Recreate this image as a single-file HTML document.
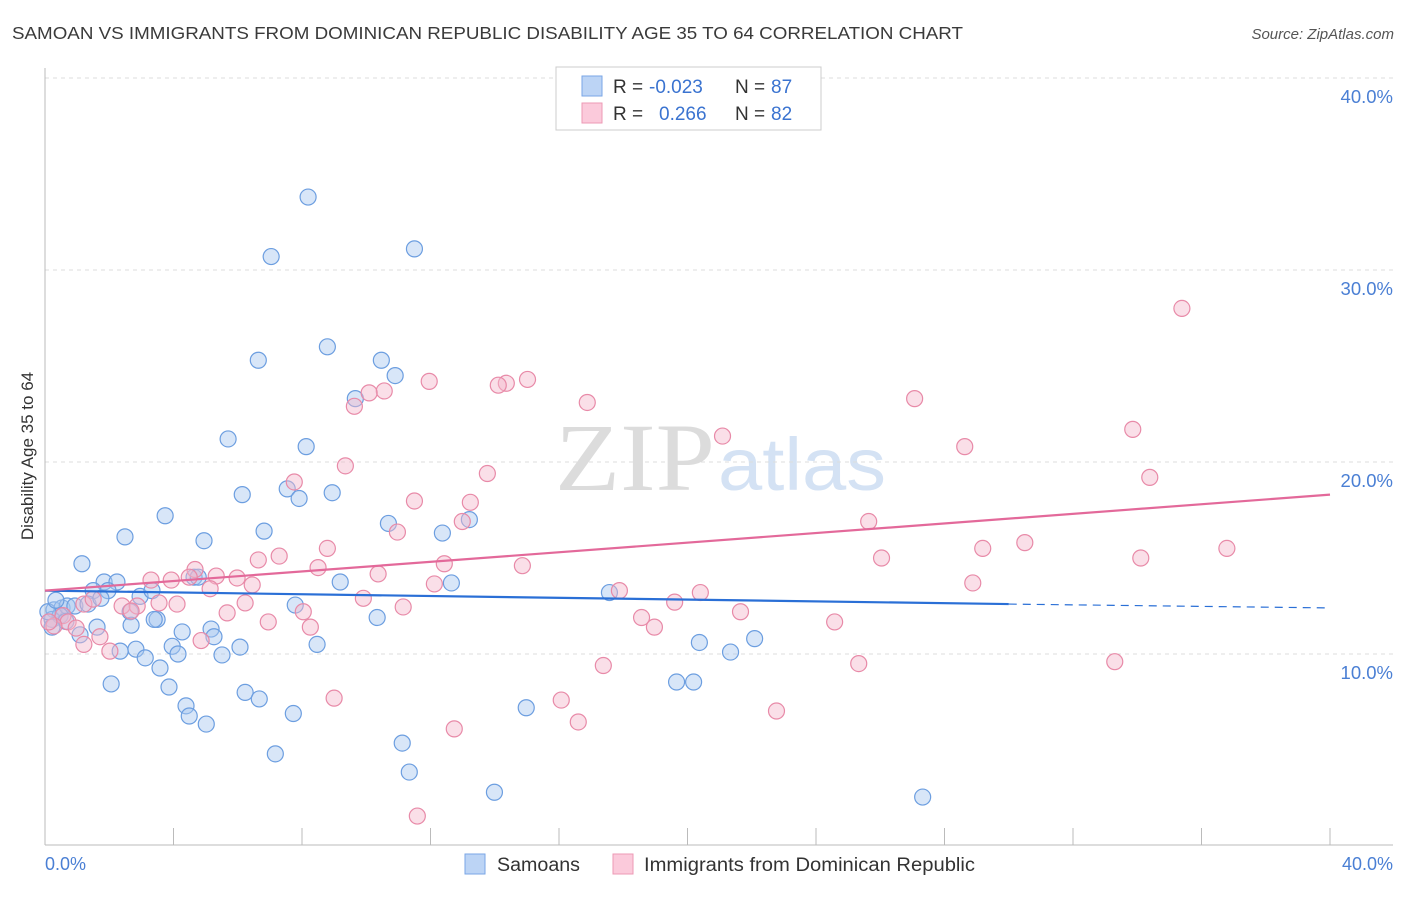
<!DOCTYPE html>
<html><head><meta charset="utf-8"><style>
body{margin:0;background:#fff;font-family:"Liberation Sans",sans-serif}
</style></head><body>
<svg id="chart" width="1406" height="892" xmlns="http://www.w3.org/2000/svg" style="font-family:'Liberation Sans',sans-serif">
<text x="12" y="39" font-size="17.5" fill="#3a3a3a" textLength="951" lengthAdjust="spacingAndGlyphs">SAMOAN VS IMMIGRANTS FROM DOMINICAN REPUBLIC DISABILITY AGE 35 TO 64 CORRELATION CHART</text>
<text x="1394" y="39" font-size="15" fill="#555" font-style="italic" text-anchor="end">Source: ZipAtlas.com</text>
<text x="555" y="490" font-size="96" fill="#dcdcdc" font-family="Liberation Serif" textLength="160" lengthAdjust="spacingAndGlyphs">ZIP</text>
<text x="718" y="490" font-size="74" fill="#d4e2f4" textLength="168" lengthAdjust="spacingAndGlyphs">atlas</text>
<g id="grid"></g>
<g id="axes"></g>
<g id="marks"></g>
<text transform="translate(33,456) rotate(-90)" font-size="17" fill="#333" text-anchor="middle">Disability Age 35 to 64</text>
<text x="45" y="870" font-size="18" fill="#4a7fd4">0.0%</text>
<text x="1393" y="870" font-size="18" fill="#4a7fd4" text-anchor="end">40.0%</text>
<g>
<rect x="556" y="67" width="265" height="63" fill="#fff" stroke="#ccc"/>
<rect x="582" y="76" width="20" height="20" fill="#bcd4f5" stroke="#7aa6e6"/>
<rect x="582" y="103" width="20" height="20" fill="#fbcadb" stroke="#ec9ab5"/>
<text x="613" y="93" font-size="19" fill="#333">R =</text>
<text x="649" y="93" font-size="19" fill="#3a73d0">-0.023</text>
<text x="735" y="93" font-size="19" fill="#333">N =</text>
<text x="771" y="93" font-size="19" fill="#3a73d0">87</text>
<text x="613" y="120" font-size="19" fill="#333">R =</text>
<text x="659" y="120" font-size="19" fill="#3a73d0">0.266</text>
<text x="735" y="120" font-size="19" fill="#333">N =</text>
<text x="771" y="120" font-size="19" fill="#3a73d0">82</text>
</g>
<g>
<rect x="465" y="854" width="20" height="20" fill="#bcd4f5" stroke="#7aa6e6"/>
<text x="497" y="871" font-size="19" fill="#333" textLength="83" lengthAdjust="spacingAndGlyphs">Samoans</text>
<rect x="613" y="854" width="20" height="20" fill="#fbcadb" stroke="#ec9ab5"/>
<text x="644" y="871" font-size="19" fill="#333" textLength="331" lengthAdjust="spacingAndGlyphs">Immigrants from Dominican Republic</text>
</g>
</svg>
<script>
const yTicks=[10,20,30,40];
const yTickLabels=["10.0%","20.0%","30.0%","40.0%"];
const blueX=[8.19,7.04,11.5,6.64,8.79,10.47,10.9,9.66,5.7,8.13,6.14,7.54,7.91,8.94,3.74,6.82,10.69,12.37,13.21,2.49,4.95,1.15,1.84,2.24,1.5,1.96,2.96,3.33,4.64,4.77,9.19,12.65,17.57,0.28,0.53,0.69,0.93,1.34,1.74,2.65,3.49,7.79,10.34,0.22,0.47,0.65,1.62,2.68,3.4,4.27,5.17,5.26,1.09,2.34,2.83,3.12,3.96,4.14,3.58,5.51,6.07,8.47,20.37,22.09,21.34,2.06,3.86,6.23,6.67,4.39,4.49,5.02,7.73,14.98,19.66,20.19,7.17,11.12,11.34,13.99,27.32,0.22,0.09,0.34];
const blueY=[33.8,30.7,31.1,25.3,26.0,25.3,24.5,23.3,21.2,20.8,18.3,18.6,18.1,18.4,17.2,16.4,16.8,16.3,17.0,16.1,15.9,14.7,13.75,13.75,13.3,13.3,13.0,13.3,14.0,14.0,13.75,13.7,13.2,12.3,12.4,12.5,12.5,12.6,12.9,12.2,11.8,12.55,11.9,11.8,12.0,11.7,11.4,11.5,11.8,11.15,11.3,10.9,11.0,10.15,10.25,9.8,10.4,10.0,9.27,9.95,10.36,10.5,10.6,10.8,10.1,8.44,8.28,8.0,7.66,7.3,6.77,6.35,6.9,7.2,8.54,8.54,4.8,5.36,3.85,2.8,2.55,11.4,12.2,12.8];
const pinkX=[35.39,11.96,10.56,10.09,9.63,14.36,14.11,15.02,16.88,27.07,21.09,28.63,33.86,9.35,7.76,34.39,13.77,11.5,13.24,12.99,10.97,25.64,30.5,29.19,8.79,7.29,6.64,26.04,34.11,36.79,12.43,8.5,14.86,4.67,3.3,3.93,4.49,5.33,5.98,6.45,10.37,12.12,5.14,28.88,9.91,17.88,20.4,4.11,6.23,2.4,2.87,3.55,1.21,1.5,2.68,8.04,11.15,19.6,18.57,18.97,21.65,24.58,6.95,5.67,8.26,0.56,0.72,0.97,0.28,0.12,1.71,1.21,2.02,4.86,17.38,25.33,33.3,16.07,9.0,16.6,22.77,12.74,11.59];
const pinkY=[28.0,24.2,23.7,23.6,22.9,24.1,24.0,24.3,23.1,23.3,21.35,20.8,21.7,19.8,18.96,19.2,19.4,17.97,17.9,16.9,16.35,16.9,15.8,15.5,15.5,15.1,14.9,15.0,15.0,15.5,14.7,14.5,14.6,14.4,13.85,13.85,14.0,14.06,13.96,13.6,14.17,13.65,13.4,13.7,12.9,13.3,13.2,12.6,12.66,12.5,12.5,12.66,12.6,12.86,12.24,12.2,12.45,12.7,11.9,11.4,12.2,11.67,11.67,12.14,11.4,12.0,11.67,11.35,11.46,11.67,10.9,10.5,10.15,10.7,9.4,9.5,9.6,7.6,7.7,6.46,7.03,6.1,1.56];
const blueTrend=[13.3,12.6,12.4];
const pinkTrend=[13.3,18.3];
const X=v=>45+v*32.125, Y=v=>846-v*19.2;
const NS="http://www.w3.org/2000/svg";
function mk(parent,tag,attrs){const e=document.createElementNS(NS,tag);for(const k in attrs)e.setAttribute(k,attrs[k]);document.getElementById(parent).appendChild(e);return e;}
yTicks.forEach((t,i)=>{
 const l=mk('grid','line',{x1:45,x2:1393,y1:Y(t),y2:Y(t),stroke:'#ddd','stroke-dasharray':'4,4'});
 
 
 const tx=mk('grid','text',{x:1393,y:Y(t)+25,'font-size':18.5,fill:'#4a7fd4','text-anchor':'end'});
 tx.textContent=yTickLabels[i];
 
 
});
let a=mk('axes','line',{x1:45,x2:1393,y1:845,y2:845,stroke:'#bbb'});


a=mk('axes','line',{x1:45,x2:45,y1:68,y2:845,stroke:'#bbb'});


for(let i=0;i<=10;i++){const t=mk('axes','line',{x1:X(i*4),x2:X(i*4),y1:828,y2:845,stroke:'#bbb'});
 
 }
function pts(xs,ys,fill,stroke,name){xs.forEach((x,i)=>{const c=mk('marks','circle',{cx:X(x),cy:Y(ys[i]),r:8,fill:fill,'fill-opacity':0.45,stroke:stroke,'stroke-width':1.2});
 
 });}
pts(blueX,blueY,'#a9c7f0','#6c9ee0','samoan-point');
pts(pinkX,pinkY,'#f5b8cc','#e88aa8','dominican-point');
let t=mk('marks','line',{x1:X(0),y1:Y(blueTrend[0]),x2:X(30),y2:Y(blueTrend[1]),stroke:'#2a6fd6','stroke-width':2.2});


t=mk('marks','line',{x1:X(30),y1:Y(blueTrend[1]),x2:X(40),y2:Y(blueTrend[2]),stroke:'#2a6fd6','stroke-width':1.2,'stroke-dasharray':'8,6'});


t=mk('marks','line',{x1:X(0),y1:Y(pinkTrend[0]),x2:X(40),y2:Y(pinkTrend[1]),stroke:'#e3699a','stroke-width':2.2});


</script>
</body></html>
